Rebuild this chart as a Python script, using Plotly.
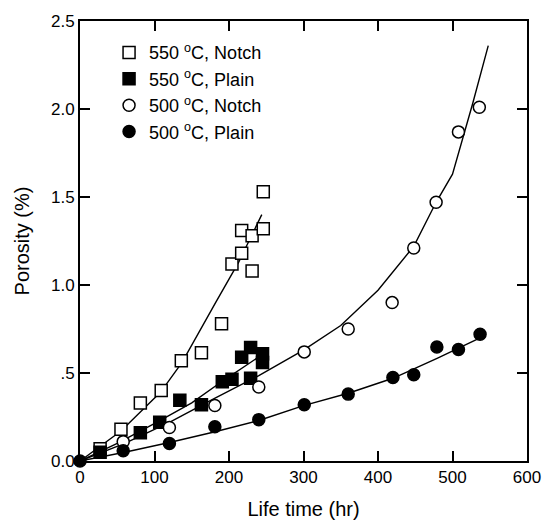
import plotly.graph_objects as go

# Measured porosity vs. life time
notch550_t = [27, 55, 81, 109, 136, 163, 190, 204, 217, 217, 231, 231, 246, 246]
notch550_p = [0.07, 0.18, 0.33, 0.40, 0.57, 0.615, 0.78, 1.12, 1.18, 1.31, 1.28, 1.08, 1.32, 1.53]

plain550_t = [27, 81, 107, 134, 163, 191, 204, 217, 229, 229, 245, 245]
plain550_p = [0.05, 0.16, 0.22, 0.345, 0.32, 0.45, 0.465, 0.59, 0.645, 0.47, 0.61, 0.56]

notch500_t = [58, 120, 181, 240, 301, 360, 419, 448, 478, 508, 536]
notch500_p = [0.11, 0.19, 0.315, 0.42, 0.62, 0.75, 0.90, 1.21, 1.47, 1.87, 2.01]

plain500_t = [0, 58, 120, 181, 240, 301, 360, 420, 448, 479, 508, 537]
plain500_p = [0.0, 0.058, 0.10, 0.195, 0.235, 0.32, 0.38, 0.475, 0.49, 0.648, 0.633, 0.72]

# Trend curves
fit_n550_t = [0, 55, 108, 137, 182, 213, 244]
fit_n550_p = [0, 0.17, 0.39, 0.56, 0.90, 1.13, 1.40]

fit_p550_t = [0, 50, 106, 150, 190, 243]
fit_p550_p = [0, 0.10, 0.226, 0.33, 0.45, 0.60]

fit_n500_t = [0, 60, 120, 180, 240, 300, 350, 400, 448, 478, 500, 527, 548]
fit_n500_p = [0, 0.10, 0.22, 0.355, 0.485, 0.63, 0.77, 0.97, 1.22, 1.47, 1.63, 2.03, 2.36]

fit_p500_t = [0, 60, 120, 180, 240, 300, 360, 420, 480, 537]
fit_p500_p = [0, 0.05, 0.105, 0.165, 0.23, 0.315, 0.385, 0.47, 0.585, 0.70]

x_ticks = [0, 100, 200, 300, 400, 500, 600]
y_ticks = [0, 0.5, 1.0, 1.5, 2.0, 2.5]
y_ticktext = ["0.0", ".5", "1.0", "1.5", "2.0", "2.5"]

FONT = "Liberation Sans, Arial, sans-serif"
fig = go.Figure()

for t, p in [(fit_n550_t, fit_n550_p), (fit_p550_t, fit_p550_p),
             (fit_n500_t, fit_n500_p), (fit_p500_t, fit_p500_p)]:
    fig.add_trace(go.Scatter(x=t, y=p, mode="lines", showlegend=False,
                             line=dict(color="black", width=1.4),
                             hoverinfo="skip", cliponaxis=False))

series = [
    ("550 <sup>o</sup>C, Notch", notch550_t, notch550_p, "square-open", "g1"),
    ("550 <sup>o</sup>C, Plain", plain550_t, plain550_p, "square", "g2"),
    ("500 <sup>o</sup>C, Notch", notch500_t, notch500_p, "circle-open", "g3"),
    ("500 <sup>o</sup>C, Plain", plain500_t, plain500_p, "circle", "g4"),
]
for name, t, p, sym, grp in series:
    filled = not sym.endswith("open")
    fig.add_trace(go.Scatter(
        x=t, y=p, mode="markers", name=name, legendgroup=grp,
        cliponaxis=False,
        marker=dict(symbol=sym.replace("-open", ""), size=12,
                    color="black" if filled else "white",
                    line=dict(color="black", width=1.5)),
    ))

fig.update_layout(
    width=556, height=529,
    margin=dict(l=80, r=29, t=14, b=67),
    paper_bgcolor="white", plot_bgcolor="white",
    font=dict(family=FONT, size=17, color="black"),
    showlegend=True,
    legend=dict(x=0.065, y=0.97, xanchor="left", yanchor="top",
                bgcolor="rgba(0,0,0,0)", font=dict(size=18),
                tracegroupgap=0, itemwidth=30),
)
fig.update_xaxes(
    range=[0, 600], tickvals=x_ticks, ticks="inside", ticklen=10,
    tickwidth=1.5, tickcolor="black", showline=True, linecolor="black",
    linewidth=2, mirror="ticks", showgrid=False, zeroline=False,
    title=dict(text="Life time (hr)", standoff=16),
)
fig.update_yaxes(
    range=[0, 2.5], tickvals=y_ticks, ticktext=y_ticktext, ticks="inside",
    ticklen=10, tickwidth=1.5, tickcolor="black", showline=True,
    linecolor="black", linewidth=2, mirror="ticks", showgrid=False,
    zeroline=False, title=dict(text="Porosity (%)", standoff=16),
)

fig.write_html("out.html")
